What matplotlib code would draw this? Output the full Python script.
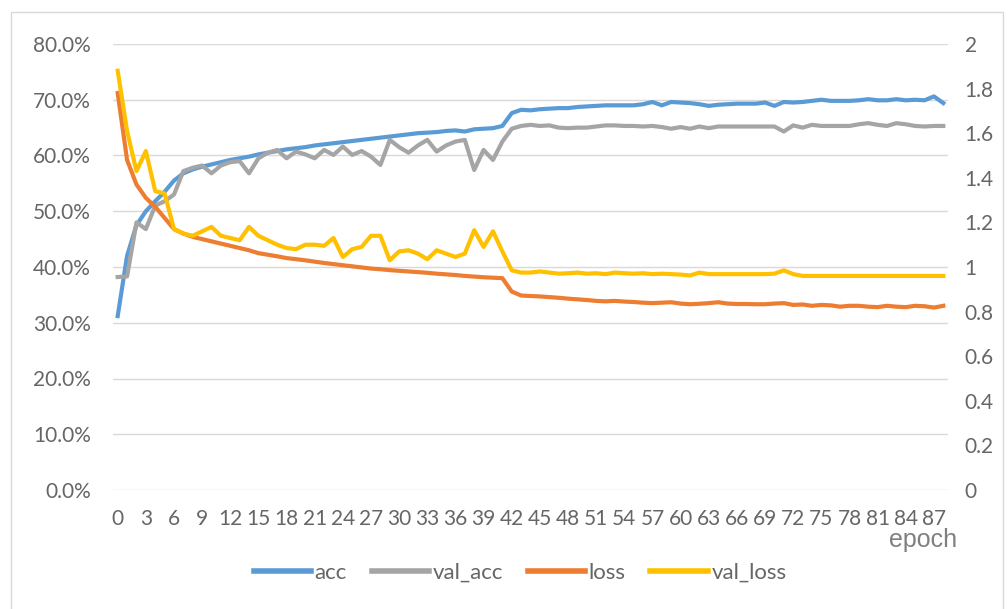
import numpy as np
import matplotlib
matplotlib.use("Agg")
import matplotlib.pyplot as plt
from matplotlib.patches import Rectangle
from matplotlib.ticker import FuncFormatter, MultipleLocator

# training history, epochs 0..88
acc = [31.2, 42.0, 47.5, 50.0, 51.8, 53.5, 55.5, 56.8, 57.5, 58.0,
       58.4, 58.8, 59.2, 59.5, 59.8, 60.2, 60.5, 60.8, 61.1, 61.3,
       61.5, 61.8, 62.0, 62.2, 62.4, 62.6, 62.8, 63.0, 63.2, 63.4,
       63.6, 63.8, 64.0, 64.1, 64.2, 64.4, 64.5, 64.3, 64.7, 64.8,
       64.9, 65.3, 67.6, 68.2, 68.1, 68.3, 68.4, 68.5, 68.5, 68.7,
       68.8, 68.9, 69.0, 69.0, 69.0, 69.0, 69.2, 69.6, 69.0, 69.6,
       69.5, 69.4, 69.2, 68.9, 69.1, 69.2, 69.3, 69.3, 69.3, 69.5,
       68.9, 69.6, 69.5, 69.6, 69.8, 70.0, 69.8, 69.8, 69.8, 69.9,
       70.1, 69.9, 69.9, 70.1, 69.9, 70.0, 69.9, 70.6, 69.4]
val_acc = [38.2, 38.3, 48.0, 46.8, 51.0, 51.8, 53.0, 57.2, 57.8, 58.2,
           56.8, 58.2, 58.8, 59.0, 56.8, 59.5, 60.5, 61.0, 59.5, 60.7,
           60.2, 59.5, 61.0, 60.1, 61.6, 60.1, 60.8, 59.8, 58.3, 62.8,
           61.5, 60.5, 61.8, 62.8, 60.7, 61.8, 62.5, 62.8, 57.4, 61.0,
           59.2, 62.5, 64.8, 65.3, 65.5, 65.3, 65.4, 65.0, 64.9, 65.0,
           65.0, 65.2, 65.4, 65.4, 65.3, 65.3, 65.2, 65.3, 65.1, 64.8,
           65.1, 64.8, 65.2, 64.9, 65.2, 65.2, 65.2, 65.2, 65.2, 65.2,
           65.2, 64.3, 65.4, 65.0, 65.5, 65.3, 65.3, 65.3, 65.3, 65.6,
           65.8, 65.5, 65.3, 65.8, 65.6, 65.3, 65.2, 65.3, 65.3]
loss = [1.78, 1.48, 1.37, 1.31, 1.27, 1.22, 1.17, 1.15, 1.135, 1.125,
        1.115, 1.105, 1.095, 1.085, 1.075, 1.062, 1.055, 1.048, 1.04, 1.035,
        1.03, 1.024, 1.018, 1.013, 1.008, 1.003, 0.998, 0.993, 0.99, 0.986,
        0.983, 0.98, 0.977, 0.974, 0.97, 0.967, 0.964, 0.96, 0.957, 0.954,
        0.952, 0.95, 0.89, 0.872, 0.87, 0.868, 0.865, 0.862, 0.858, 0.855,
        0.852, 0.848, 0.846, 0.848, 0.845, 0.843, 0.84, 0.838, 0.84, 0.842,
        0.836, 0.833, 0.835, 0.838, 0.842, 0.836, 0.834, 0.834, 0.833, 0.833,
        0.836, 0.838, 0.83, 0.832, 0.826, 0.83, 0.828, 0.822, 0.826, 0.826,
        0.822, 0.82, 0.826, 0.822, 0.82, 0.826, 0.824, 0.818, 0.826]
val_loss = [1.88, 1.61, 1.43, 1.52, 1.34, 1.33, 1.17, 1.15, 1.14, 1.16,
            1.18, 1.14, 1.13, 1.12, 1.18, 1.14, 1.12, 1.10, 1.085, 1.08,
            1.10, 1.10, 1.095, 1.13, 1.045, 1.08, 1.09, 1.14, 1.14, 1.03,
            1.07, 1.075, 1.06, 1.035, 1.075, 1.06, 1.045, 1.06, 1.165, 1.09,
            1.16, 1.07, 0.985, 0.975, 0.975, 0.98, 0.975, 0.97, 0.972, 0.975,
            0.97, 0.972, 0.968, 0.975, 0.972, 0.97, 0.972, 0.968, 0.97, 0.968,
            0.966, 0.962, 0.975, 0.968, 0.968, 0.968, 0.968, 0.968, 0.968, 0.968,
            0.97, 0.985, 0.968, 0.96, 0.96, 0.96, 0.96, 0.96, 0.96, 0.96,
            0.96, 0.96, 0.96, 0.96, 0.96, 0.96, 0.96, 0.96, 0.96]
epochs = np.arange(len(acc))

label_color = "#666666"
grid_color = "#d9d9d9"
plt.rcParams["font.family"] = ["Lato", "DejaVu Sans"]

W, H = 1008, 609
fig = plt.figure(figsize=(W / 100, H / 100), dpi=100)
ax = fig.add_axes([113 / W, 1 - 490 / H, (948 - 113) / W, (490 - 44) / H])
ax2 = ax.twinx()

# chart area border (cut off at the bottom in the screenshot)
fig.patches.append(Rectangle((11 / W, -0.05), (1003 - 11) / W, 1.05 - 12 / H,
                             transform=fig.transFigure, fill=False,
                             edgecolor=grid_color, lw=1))

h1, = ax.plot(epochs, np.array(acc) / 100, color="#5B9BD5", lw=3, label="acc")
h2, = ax.plot(epochs, np.array(val_acc) / 100, color="#A5A5A5", lw=3, label="val_acc")
h3, = ax2.plot(epochs, loss, color="#ED7D31", lw=3, label="loss")
h4, = ax2.plot(epochs, val_loss, color="#FFC000", lw=3, label="val_loss")

ax.set_xlim(-0.5, len(acc) - 0.5)
ax.set_ylim(0, 0.8)
ax2.set_ylim(0, 2)
ax.yaxis.set_major_locator(MultipleLocator(0.1))
ax.yaxis.set_major_formatter(FuncFormatter(lambda v, p: f"{v * 100:.1f}%"))
ax2.yaxis.set_major_locator(MultipleLocator(0.2))
ax2.yaxis.set_major_formatter(FuncFormatter(lambda v, p: f"{v:g}"))
ax.set_xticks(epochs[::3])
ax.set_xticklabels([str(e) for e in epochs[::3]])

ax.grid(axis="y", color=grid_color, lw=1)
ax.set_axisbelow(True)
for a in (ax, ax2):
    for s in a.spines.values():
        s.set_visible(False)
ax.tick_params(axis="y", length=0, pad=16, labelsize=15, labelcolor=label_color)
ax.tick_params(axis="x", length=0, pad=14, labelsize=15, labelcolor=label_color)
ax2.tick_params(axis="y", length=0, pad=12, labelsize=15, labelcolor=label_color)

fig.text(923 / W, 1 - 540 / H, "epoch", ha="center", va="center",
         fontsize=18, color="#808080", family="Liberation Sans")

leg = fig.legend(handles=[h1, h2, h3, h4], loc="center", ncol=4,
                 bbox_to_anchor=(520 / W, 1 - 573 / H), frameon=False,
                 fontsize=16, labelcolor=label_color, handlelength=2.6,
                 handletextpad=0.15, columnspacing=1.1)
for line in leg.get_lines():
    line.set_linewidth(4)

fig.savefig("out.png", dpi=100)
